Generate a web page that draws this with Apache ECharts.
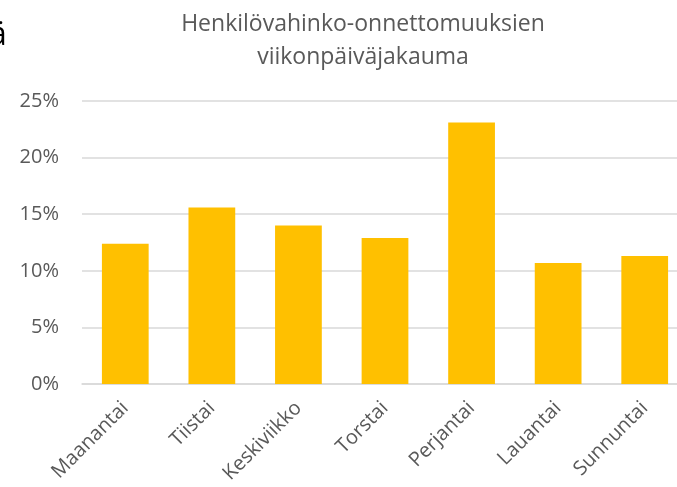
<!DOCTYPE html>
<html>
<head>
<meta charset="utf-8">
<script src="https://cdn.jsdelivr.net/npm/echarts@6/dist/echarts.min.js"></script>
<style>
  html, body { margin: 0; padding: 0; background: #fff; }
  #chart { width: 677px; height: 487px; }
</style>
</head>
<body>
<div id="chart"></div>
<script>
// data
const days = ['Maanantai', 'Tiistai', 'Keskiviikko', 'Torstai', 'Perjantai', 'Lauantai', 'Sunnuntai']
const share = [12.4, 15.6, 14.0, 12.9, 23.1, 10.7, 11.3]
const yTicks = [0, 5, 10, 15, 20, 25]

const chart = echarts.init(document.getElementById('chart'))

const option = {
  animation: false,
  textStyle: { fontFamily: 'Open Sans' },
  title: {
    text: 'Henkilövahinko-onnettomuuksien\nviikonpäiväjakauma',
    left: 358,
    textAlign: 'center',
    top: 3,
    textStyle: {
      color: '#595959',
      fontSize: 23,
      fontWeight: 'normal',
      lineHeight: 33,
      fontFamily: 'Open Sans'
    }
  },
  // cut-off letter from the slide behind the chart
  graphic: [{
    type: 'text',
    left: -11,
    top: 20,
    style: { text: 'ä', fill: '#000', fontSize: 32, fontFamily: 'Open Sans' }
  }],
  // plot runs past the right edge of the picture (it is cropped there)
  grid: { left: 82, width: 606, top: 101, bottom: 103, outerBoundsMode: 'none' },
  xAxis: {
    type: 'category',
    data: days,
    axisLine: { lineStyle: { color: '#d9d9d9', width: 1.5 } },
    axisTick: { show: false },
    axisLabel: {
      rotate: 45,
      interval: 0,
      margin: 21,
      color: '#595959',
      fontSize: 20,
      fontFamily: 'Open Sans'
    }
  },
  yAxis: {
    type: 'value',
    min: yTicks[0],
    max: yTicks[yTicks.length - 1],
    interval: 5,
    axisLine: { show: false },
    axisTick: { show: false },
    splitLine: { lineStyle: { color: '#d9d9d9', width: 1.5 } },
    axisLabel: {
      formatter: v => v + '%',
      margin: 23,
      color: '#595959',
      fontSize: 20,
      fontFamily: 'Open Sans'
    }
  },
  series: [{
    type: 'bar',
    data: share,
    barWidth: '54%',
    itemStyle: { color: '#ffc000' }
  }]
}

chart.setOption(option)
</script>
</body>
</html>
